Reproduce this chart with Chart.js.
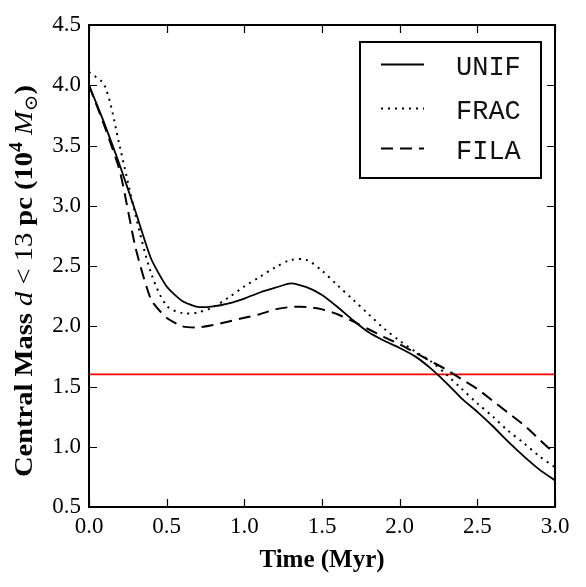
<!DOCTYPE html>
<html><head><meta charset="utf-8">
<script src="https://cdn.jsdelivr.net/npm/chart.js@4.4.0/dist/chart.umd.min.js"></script>
<style>html,body{margin:0;padding:0;background:#fff;}</style>
</head><body>
<canvas id="c" width="586" height="587"></canvas>
<script>
// ---- data ----
const times = [0.0,0.1,0.2,0.3,0.4,0.5,0.6,0.7,0.8,0.9,1.0,1.1,1.2,1.3,1.4,1.5,1.6,1.7,1.8,1.9,2.0,2.1,2.2,2.3,2.4,2.5,2.6,2.7,2.8,2.9,3.0];
const unif = [4.00,3.68,3.33,2.95,2.56,2.33,2.21,2.16,2.165,2.19,2.23,2.28,2.32,2.355,2.325,2.26,2.16,2.05,1.95,1.88,1.82,1.75,1.65,1.53,1.40,1.29,1.17,1.04,0.92,0.81,0.72];
const frac = [4.11,4.00,3.48,2.92,2.44,2.17,2.11,2.115,2.16,2.24,2.33,2.41,2.49,2.55,2.55,2.46,2.34,2.22,2.10,1.98,1.88,1.79,1.71,1.60,1.48,1.36,1.25,1.13,1.03,0.92,0.83];
const fila = [4.00,3.66,3.28,2.65,2.22,2.07,2.00,1.99,2.01,2.04,2.07,2.10,2.14,2.16,2.16,2.14,2.10,2.04,1.975,1.91,1.85,1.78,1.71,1.64,1.56,1.48,1.38,1.28,1.18,1.06,0.94];
const threshold = 1.6;
const seriesNames = ['UNIF','FRAC','FILA'];
const xTicks = [0.0,0.5,1.0,1.5,2.0,2.5,3.0];
const yTicks = [0.5,1.0,1.5,2.0,2.5,3.0,3.5,4.0,4.5];
const xTitle = 'Time (Myr)';
const yTitleParts = [
  {t:'Central Mass ', s:'bold'},
  {t:'d', s:'italic'},
  {t:' < 13 ', s:'normal'},
  {t:'pc', s:'bold'},
  {t:' (10', s:'bold'},
  {t:'4', s:'bold', pos:'sup'},
  {t:' ', s:'bold'},
  {t:'M', s:'italic'},
  {t:'\u2299', s:'normal', pos:'sub'},
  {t:')', s:'bold'}
];

const SERIF = '"Liberation Serif", "DejaVu Serif", serif';
const MONO = '"Liberation Mono", "DejaVu Sans Mono", monospace';

const pts = ys => times.map((t,i)=>({x:t,y:ys[i]}));

const decor = {
  id:'decor',
  afterDraw(chart){
    const ctx = chart.ctx, a = chart.chartArea;
    const xs = chart.scales.x, ys = chart.scales.y;
    ctx.save();
    // inner ticks on all four sides
    ctx.strokeStyle = '#000'; ctx.lineWidth = 1.2;
    const L = 8;
    ctx.beginPath();
    xTicks.forEach(v=>{
      const p = Math.round(xs.getPixelForValue(v))+0.5;
      ctx.moveTo(p,a.bottom); ctx.lineTo(p,a.bottom-L);
      ctx.moveTo(p,a.top); ctx.lineTo(p,a.top+L);
    });
    yTicks.forEach(v=>{
      const p = Math.round(ys.getPixelForValue(v))+0.5;
      ctx.moveTo(a.left,p); ctx.lineTo(a.left+L,p);
      ctx.moveTo(a.right,p); ctx.lineTo(a.right-L,p);
    });
    ctx.stroke();
    // frame
    ctx.lineWidth = 2;
    ctx.strokeRect(a.left, a.top, a.right-a.left, a.bottom-a.top);

    // legend
    const lx = 360, ly = 42, lw = 181, lh = 136;
    ctx.fillStyle = '#fff';
    ctx.fillRect(lx,ly,lw,lh);
    ctx.lineWidth = 2;
    ctx.strokeRect(lx,ly,lw,lh);
    const rows = [64.5,108.5,148.5];
    chart.data.datasets.slice(0,3).forEach((ds,i)=>{
      ctx.beginPath();
      ctx.setLineDash(ds.borderDash||[]);
      ctx.lineWidth = ds.borderWidth;
      ctx.strokeStyle = '#000';
      ctx.moveTo(381,rows[i]); ctx.lineTo(424,rows[i]);
      ctx.stroke();
      ctx.setLineDash([]);
      ctx.fillStyle = '#111';
      ctx.font = '27px ' + MONO;
      ctx.textBaseline = 'middle';
      ctx.textAlign = 'left';
      ctx.fillText(ds.label, 456, rows[i]+3);
    });

    // x title
    ctx.fillStyle = '#000';
    ctx.font = 'bold 25px ' + SERIF;
    ctx.textAlign = 'center';
    ctx.textBaseline = 'alphabetic';
    ctx.fillText(xTitle, (a.left+a.right)/2, 567);

    // y title (mixed styles), rotated
    const S = 26;
    const fontFor = (p)=>{
      const sz = p.pos ? S*0.7 : S;
      return (p.s==='italic'?'italic ':'') + (p.s==='bold'?'bold ':'') + sz + 'px ' + SERIF;
    };
    let total = 0;
    yTitleParts.forEach(p=>{ ctx.font = fontFor(p); p.w = ctx.measureText(p.t).width; total += p.w; });
    const targetLen = 392;
    const k = targetLen / total;
    ctx.translate(32, 281);
    ctx.rotate(-Math.PI/2);
    ctx.scale(k, 1);
    ctx.textAlign = 'left';
    let x = -total/2;
    yTitleParts.forEach(p=>{
      ctx.font = fontFor(p);
      const dy = p.pos==='sup' ? -S*0.38 : (p.pos==='sub' ? S*0.2 : 0);
      ctx.fillText(p.t, x, dy);
      x += p.w;
    });
    ctx.restore();
  }
};

new Chart(document.getElementById('c'), {
  type:'line',
  data:{
    datasets:[
      {label:seriesNames[0], data:pts(unif), borderColor:'#000', borderWidth:1.8, pointRadius:0, tension:0.2, fill:false},
      {label:seriesNames[1], data:pts(frac), borderColor:'#000', borderWidth:2, borderDash:[2,5], pointRadius:0, tension:0.3, fill:false},
      {label:seriesNames[2], data:pts(fila), borderColor:'#000', borderWidth:2, borderDash:[12,7], pointRadius:0, tension:0.2, fill:false},
      {label:'threshold', data:[{x:0,y:threshold},{x:3,y:threshold}], borderColor:'#ff0000', borderWidth:1.8, pointRadius:0, fill:false}
    ]
  },
  options:{
    responsive:false, animation:false, devicePixelRatio:1,
    layout:{padding:{top:25,right:31,left:0,bottom:0}},
    plugins:{legend:{display:false}, tooltip:{enabled:false}},
    scales:{
      x:{type:'linear', min:0, max:3,
        afterBuildTicks:s=>{s.ticks = xTicks.map(v=>({value:v}));},
        afterFit:s=>{s.height = 80;},
        ticks:{callback:v=>v.toFixed(1), font:{family:SERIF, size:23}, color:'#000', padding:6, maxRotation:0, autoSkip:false},
        grid:{display:false, drawTicks:false}, border:{display:false}},
      y:{type:'linear', min:0.5, max:4.5,
        afterBuildTicks:s=>{s.ticks = yTicks.map(v=>({value:v}));},
        afterFit:s=>{s.width = 89;},
        ticks:{callback:v=>v.toFixed(1), font:{family:SERIF, size:23}, color:'#000', padding:8, autoSkip:false},
        grid:{display:false, drawTicks:false}, border:{display:false}}
    }
  },
  plugins:[decor]
});
</script>
</body></html>
